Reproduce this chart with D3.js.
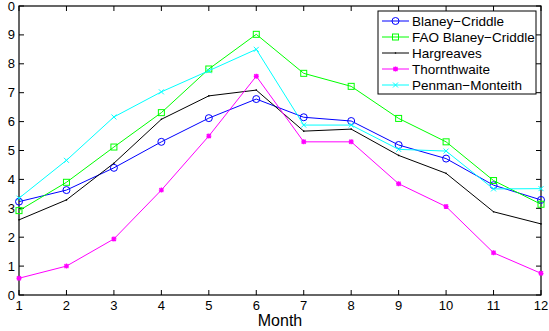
<!DOCTYPE html>
<html>
<head>
<meta charset="utf-8">
<script src="https://cdn.jsdelivr.net/npm/d3@7"></script>
<style>
  body { margin: 0; background: #fff; }
  text { font-family: "Liberation Sans", Arial, sans-serif; }
</style>
</head>
<body>
<div id="view"></div>
<script>
const months = [1, 2, 3, 4, 5, 6, 7, 8, 9, 10, 11, 12];
const yTicks = [0, 1, 2, 3, 4, 5, 6, 7, 8, 9, 10];
const yTickLabels = ["0", "1", "2", "3", "4", "5", "6", "7", "8", "9", "0"];

const blaneyCriddle = [3.23, 3.63, 4.40, 5.30, 6.12, 6.78, 6.15, 6.02, 5.19, 4.72, 3.80, 3.29];
const faoBlaneyCriddle = [2.92, 3.90, 5.12, 6.31, 7.82, 9.02, 7.67, 7.22, 6.11, 5.30, 3.96, 3.14];
const hargreaves = [2.60, 3.29, 4.56, 6.08, 6.89, 7.09, 5.67, 5.74, 4.83, 4.21, 2.88, 2.46];
const thornthwaite = [0.58, 1.00, 1.94, 3.63, 5.50, 7.57, 5.30, 5.30, 3.85, 3.06, 1.46, 0.75];
const penmanMonteith = [3.35, 4.66, 6.16, 7.03, 7.76, 8.50, 5.88, 5.88, 5.04, 4.98, 3.67, 3.68];

const series = [
  { name: "Blaney\u2212Criddle", values: blaneyCriddle, color: "#0000ff", marker: "circle" },
  { name: "FAO Blaney\u2212Criddle", values: faoBlaneyCriddle, color: "#00ff00", marker: "square" },
  { name: "Hargreaves", values: hargreaves, color: "#000000", marker: "point" },
  { name: "Thornthwaite", values: thornthwaite, color: "#ff00ff", marker: "star" },
  { name: "Penman\u2212Monteith", values: penmanMonteith, color: "#00ffff", marker: "x" }
];

const width = 549, height = 331;
const mLeft = 19, mRight = 541, mTop = 6, mBottom = 295;

const svg = d3.select("#view").append("svg")
  .attr("width", width).attr("height", height);

const x = d3.scaleLinear().domain([1, 12]).range([mLeft, mRight]);
const y = d3.scaleLinear().domain([0, 10]).range([mBottom, mTop]);

// frame
svg.append("rect")
  .attr("x", mLeft).attr("y", mTop)
  .attr("width", mRight - mLeft).attr("height", mBottom - mTop)
  .attr("fill", "none").attr("stroke", "#000").attr("stroke-width", 1.2);

// ticks (inward, on all four sides)
const tl = 5;
const g = svg.append("g").attr("stroke", "#000").attr("stroke-width", 1);
months.forEach(m => {
  g.append("line").attr("x1", x(m)).attr("x2", x(m)).attr("y1", mBottom).attr("y2", mBottom - tl);
  g.append("line").attr("x1", x(m)).attr("x2", x(m)).attr("y1", mTop).attr("y2", mTop + tl);
});
yTicks.forEach(v => {
  g.append("line").attr("x1", mLeft).attr("x2", mLeft + tl).attr("y1", y(v)).attr("y2", y(v));
  g.append("line").attr("x1", mRight).attr("x2", mRight - tl).attr("y1", y(v)).attr("y2", y(v));
});

// tick labels
svg.append("g").selectAll("text").data(months).join("text")
  .attr("x", d => x(d)).attr("y", mBottom + 15)
  .attr("text-anchor", "middle").attr("font-size", 13).attr("fill", "#000")
  .text(d => d);
svg.append("g").selectAll("text").data(yTicks).join("text")
  .attr("x", mLeft - 4).attr("y", d => y(d) + 4.5)
  .attr("text-anchor", "end").attr("font-size", 13).attr("fill", "#000")
  .text((d, i) => yTickLabels[i]);

svg.append("text")
  .attr("x", (mLeft + mRight) / 2).attr("y", 326)
  .attr("text-anchor", "middle").attr("font-size", 16).attr("fill", "#000")
  .text("Month");

function drawMarker(sel, type, color, cx, cy) {
  if (type === "circle") {
    sel.append("circle").attr("cx", cx).attr("cy", cy).attr("r", 3.5)
      .attr("fill", "none").attr("stroke", color).attr("stroke-width", 1);
  } else if (type === "square") {
    sel.append("rect").attr("x", cx - 3).attr("y", cy - 3).attr("width", 6).attr("height", 6)
      .attr("fill", "none").attr("stroke", color).attr("stroke-width", 1);
  } else if (type === "x") {
    const s = 2.5;
    sel.append("path").attr("d", `M${cx - s},${cy - s}L${cx + s},${cy + s}M${cx - s},${cy + s}L${cx + s},${cy - s}`)
      .attr("stroke", color).attr("stroke-width", 1);
  } else if (type === "star") {
    const s = 2.5;
    sel.append("path").attr("d", `M${cx - s},${cy}L${cx + s},${cy}M${cx},${cy - s}L${cx},${cy + s}M${cx - 2},${cy - 2}L${cx + 2},${cy + 2}M${cx - 2},${cy + 2}L${cx + 2},${cy - 2}`)
      .attr("stroke", color).attr("stroke-width", 1.3);
  } else if (type === "point") {
    sel.append("circle").attr("cx", cx).attr("cy", cy).attr("r", 0.8).attr("fill", color);
  }
}

const line = d3.line().x((d, i) => x(months[i])).y(d => y(d));

series.forEach(s => {
  const sg = svg.append("g");
  sg.append("path").datum(s.values)
    .attr("d", line).attr("fill", "none")
    .attr("stroke", s.color).attr("stroke-width", 1);
  s.values.forEach((v, i) => drawMarker(sg, s.marker, s.color, x(months[i]), y(v)));
});

// legend
const lx = 378, ly = 11, lw = 158, lh = 83;
svg.append("rect").attr("x", lx).attr("y", ly).attr("width", lw).attr("height", lh)
  .attr("fill", "#fff").attr("stroke", "#000").attr("stroke-width", 1);
series.forEach((s, i) => {
  const cy = ly + 10 + i * 16;
  const lg = svg.append("g");
  lg.append("line").attr("x1", lx + 4).attr("x2", lx + 31).attr("y1", cy).attr("y2", cy)
    .attr("stroke", s.color).attr("stroke-width", 1);
  drawMarker(lg, s.marker, s.color, lx + 17.5, cy);
  lg.append("text").attr("x", lx + 34).attr("y", cy + 4.7)
    .attr("font-size", 13.5).attr("fill", "#000").text(s.name);
});
</script>
</body>
</html>
